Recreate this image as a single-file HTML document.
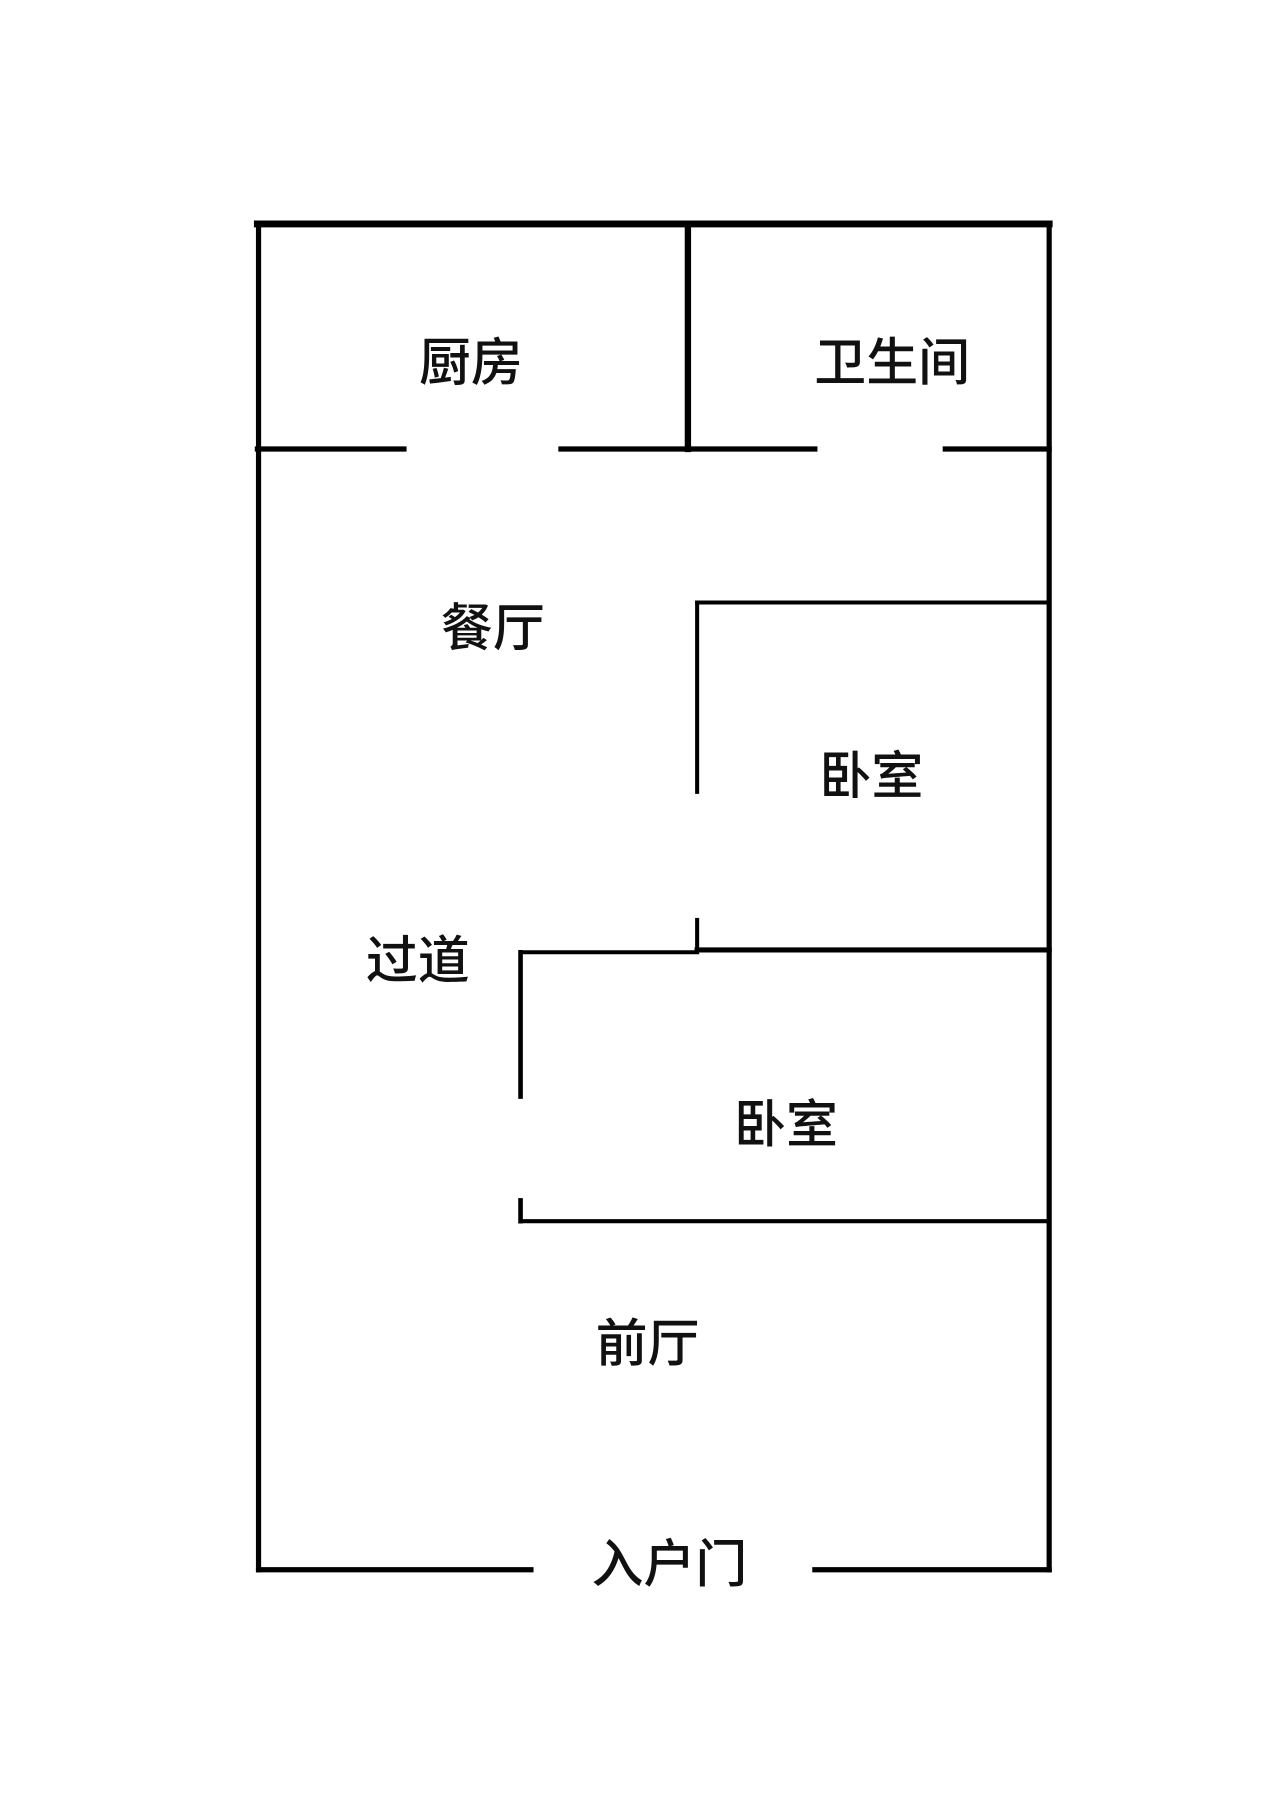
<!DOCTYPE html>
<html><head><meta charset="utf-8"><style>
html,body{margin:0;padding:0;background:#fff;}
svg{display:block;}
text{font-family:"Liberation Sans","Noto Sans CJK SC",sans-serif;font-size:45px;font-weight:500;fill:#111;text-anchor:middle;dominant-baseline:central;}
</style></head><body>
<svg width="1280" height="1811" viewBox="0 0 1109 1569" preserveAspectRatio="none" xmlns="http://www.w3.org/2000/svg">
<rect width="1109" height="1569" fill="#fff"/>
<g stroke="#000" fill="none" stroke-linecap="square">
<line x1="223" y1="194" x2="909" y2="194" stroke-width="6"/>
<line x1="224" y1="194" x2="224" y2="1360" stroke-width="4.5"/>
<line x1="909" y1="194" x2="909" y2="1360" stroke-width="4.5"/>
<line x1="596" y1="194" x2="596" y2="389" stroke-width="5.5"/>
<line x1="223" y1="389" x2="350" y2="389" stroke-width="4.5"/>
<line x1="486" y1="389" x2="706" y2="389" stroke-width="4.5"/>
<line x1="819" y1="389" x2="909" y2="389" stroke-width="4.5"/>
<line x1="604" y1="522" x2="909" y2="522" stroke-width="3.5"/>
<line x1="604" y1="522" x2="604" y2="686" stroke-width="3.5"/>
<line x1="604" y1="797" x2="604" y2="822" stroke-width="3.5"/>
<line x1="604" y1="823" x2="909" y2="823" stroke-width="4.5"/>
<line x1="451" y1="825" x2="604" y2="825" stroke-width="3.5"/>
<line x1="451" y1="825" x2="451" y2="950" stroke-width="4"/>
<line x1="451" y1="1040" x2="451" y2="1058" stroke-width="4"/>
<line x1="451" y1="1058" x2="909" y2="1058" stroke-width="3.5"/>
<line x1="224" y1="1360" x2="460" y2="1360" stroke-width="4.5"/>
<line x1="706" y1="1360" x2="909" y2="1360" stroke-width="4.5"/>
</g>
<text x="408" y="315">厨房</text>
<text x="773" y="315">卫生间</text>
<text x="427" y="545">餐厅</text>
<text x="755" y="673">卧室</text>
<text x="362" y="833">过道</text>
<text x="681" y="975">卧室</text>
<text x="561" y="1165">前厅</text>
<text x="580" y="1356">入户门</text>
</svg>
</body></html>
